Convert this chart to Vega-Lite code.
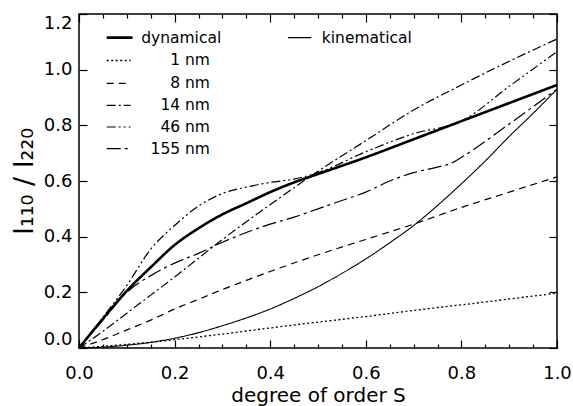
{
  "$schema": "https://vega.github.io/schema/vega-lite/v6.json",
  "width": 478,
  "height": 334,
  "autosize": {"type": "none"},
  "padding": {"left": 79, "top": 14, "right": 16, "bottom": 58},
  "background": "white",
  "config": {
    "view": {"stroke": "black", "strokeWidth": 1.5},
    "font": "DejaVu Sans",
    "axis": {"domain": false, "grid": false, "tickColor": "black", "labelColor": "black", "titleColor": "black", "labelFont": "DejaVu Sans", "titleFont": "DejaVu Sans", "tickWidth": 1.2}
  },
  "datasets": {
    "curves": [
      {"series": "dynamical", "S": 0, "I": 0}, {"series": "dynamical", "S": 0.05, "I": 0.105}, {"series": "dynamical", "S": 0.1, "I": 0.205}, {"series": "dynamical", "S": 0.15, "I": 0.29}, {"series": "dynamical", "S": 0.2, "I": 0.37}, {"series": "dynamical", "S": 0.25, "I": 0.43}, {"series": "dynamical", "S": 0.3, "I": 0.48}, {"series": "dynamical", "S": 0.35, "I": 0.52}, {"series": "dynamical", "S": 0.4, "I": 0.56}, {"series": "dynamical", "S": 0.45, "I": 0.595}, {"series": "dynamical", "S": 0.5, "I": 0.625}, {"series": "dynamical", "S": 0.6, "I": 0.685}, {"series": "dynamical", "S": 0.7, "I": 0.75}, {"series": "dynamical", "S": 0.8, "I": 0.815}, {"series": "dynamical", "S": 0.9, "I": 0.88}, {"series": "dynamical", "S": 1.0, "I": 0.945},
      {"series": "kinematical", "S": 0, "I": 0}, {"series": "kinematical", "S": 0.05, "I": 0.003}, {"series": "kinematical", "S": 0.1, "I": 0.01}, {"series": "kinematical", "S": 0.15, "I": 0.02}, {"series": "kinematical", "S": 0.2, "I": 0.035}, {"series": "kinematical", "S": 0.25, "I": 0.055}, {"series": "kinematical", "S": 0.3, "I": 0.08}, {"series": "kinematical", "S": 0.35, "I": 0.108}, {"series": "kinematical", "S": 0.4, "I": 0.14}, {"series": "kinematical", "S": 0.45, "I": 0.178}, {"series": "kinematical", "S": 0.5, "I": 0.22}, {"series": "kinematical", "S": 0.55, "I": 0.268}, {"series": "kinematical", "S": 0.6, "I": 0.32}, {"series": "kinematical", "S": 0.65, "I": 0.378}, {"series": "kinematical", "S": 0.7, "I": 0.44}, {"series": "kinematical", "S": 0.75, "I": 0.512}, {"series": "kinematical", "S": 0.8, "I": 0.59}, {"series": "kinematical", "S": 0.85, "I": 0.672}, {"series": "kinematical", "S": 0.9, "I": 0.76}, {"series": "kinematical", "S": 0.95, "I": 0.843}, {"series": "kinematical", "S": 1.0, "I": 0.93},
      {"series": "1 nm", "S": 0, "I": 0}, {"series": "1 nm", "S": 0.1, "I": 0.013}, {"series": "1 nm", "S": 0.2, "I": 0.03}, {"series": "1 nm", "S": 0.3, "I": 0.05}, {"series": "1 nm", "S": 0.4, "I": 0.072}, {"series": "1 nm", "S": 0.5, "I": 0.093}, {"series": "1 nm", "S": 0.6, "I": 0.113}, {"series": "1 nm", "S": 0.7, "I": 0.135}, {"series": "1 nm", "S": 0.8, "I": 0.155}, {"series": "1 nm", "S": 0.9, "I": 0.176}, {"series": "1 nm", "S": 1.0, "I": 0.197},
      {"series": "8 nm", "S": 0, "I": 0}, {"series": "8 nm", "S": 0.05, "I": 0.03}, {"series": "8 nm", "S": 0.1, "I": 0.065}, {"series": "8 nm", "S": 0.15, "I": 0.1}, {"series": "8 nm", "S": 0.2, "I": 0.14}, {"series": "8 nm", "S": 0.25, "I": 0.175}, {"series": "8 nm", "S": 0.3, "I": 0.21}, {"series": "8 nm", "S": 0.35, "I": 0.243}, {"series": "8 nm", "S": 0.4, "I": 0.275}, {"series": "8 nm", "S": 0.5, "I": 0.335}, {"series": "8 nm", "S": 0.6, "I": 0.39}, {"series": "8 nm", "S": 0.7, "I": 0.445}, {"series": "8 nm", "S": 0.8, "I": 0.505}, {"series": "8 nm", "S": 0.9, "I": 0.56}, {"series": "8 nm", "S": 1.0, "I": 0.615},
      {"series": "14 nm", "S": 0, "I": 0}, {"series": "14 nm", "S": 0.05, "I": 0.06}, {"series": "14 nm", "S": 0.1, "I": 0.125}, {"series": "14 nm", "S": 0.15, "I": 0.19}, {"series": "14 nm", "S": 0.2, "I": 0.255}, {"series": "14 nm", "S": 0.3, "I": 0.39}, {"series": "14 nm", "S": 0.4, "I": 0.515}, {"series": "14 nm", "S": 0.5, "I": 0.635}, {"series": "14 nm", "S": 0.6, "I": 0.745}, {"series": "14 nm", "S": 0.7, "I": 0.855}, {"series": "14 nm", "S": 0.8, "I": 0.945}, {"series": "14 nm", "S": 0.9, "I": 1.03}, {"series": "14 nm", "S": 1.0, "I": 1.11},
      {"series": "46 nm", "S": 0, "I": 0}, {"series": "46 nm", "S": 0.05, "I": 0.11}, {"series": "46 nm", "S": 0.1, "I": 0.225}, {"series": "46 nm", "S": 0.15, "I": 0.355}, {"series": "46 nm", "S": 0.2, "I": 0.44}, {"series": "46 nm", "S": 0.25, "I": 0.51}, {"series": "46 nm", "S": 0.3, "I": 0.555}, {"series": "46 nm", "S": 0.35, "I": 0.578}, {"series": "46 nm", "S": 0.4, "I": 0.595}, {"series": "46 nm", "S": 0.45, "I": 0.607}, {"series": "46 nm", "S": 0.5, "I": 0.63}, {"series": "46 nm", "S": 0.6, "I": 0.705}, {"series": "46 nm", "S": 0.7, "I": 0.77}, {"series": "46 nm", "S": 0.8, "I": 0.815}, {"series": "46 nm", "S": 0.9, "I": 0.94}, {"series": "46 nm", "S": 1.0, "I": 1.065},
      {"series": "155 nm", "S": 0, "I": 0}, {"series": "155 nm", "S": 0.05, "I": 0.1}, {"series": "155 nm", "S": 0.1, "I": 0.2}, {"series": "155 nm", "S": 0.15, "I": 0.26}, {"series": "155 nm", "S": 0.2, "I": 0.305}, {"series": "155 nm", "S": 0.25, "I": 0.34}, {"series": "155 nm", "S": 0.3, "I": 0.38}, {"series": "155 nm", "S": 0.35, "I": 0.415}, {"series": "155 nm", "S": 0.4, "I": 0.445}, {"series": "155 nm", "S": 0.45, "I": 0.47}, {"series": "155 nm", "S": 0.5, "I": 0.5}, {"series": "155 nm", "S": 0.55, "I": 0.53}, {"series": "155 nm", "S": 0.6, "I": 0.56}, {"series": "155 nm", "S": 0.65, "I": 0.6}, {"series": "155 nm", "S": 0.7, "I": 0.63}, {"series": "155 nm", "S": 0.75, "I": 0.65}, {"series": "155 nm", "S": 0.78, "I": 0.665}, {"series": "155 nm", "S": 0.8, "I": 0.685}, {"series": "155 nm", "S": 0.9, "I": 0.805}, {"series": "155 nm", "S": 1.0, "I": 0.93}
    ],
    "legend": [
      {"series": "dynamical", "lx1": 0.058, "lx2": 0.112, "ly": 1.115, "tx": 0.13, "label": "dynamical", "side": "left"},
      {"series": "kinematical", "lx1": 0.437, "lx2": 0.486, "ly": 1.115, "tx": 0.508, "label": "kinematical", "side": "left"},
      {"series": "1 nm", "lx1": 0.058, "lx2": 0.108, "ly": 1.033, "tx": 0.274, "label": "1 nm", "side": "right"},
      {"series": "8 nm", "lx1": 0.058, "lx2": 0.108, "ly": 0.951, "tx": 0.274, "label": "8 nm", "side": "right"},
      {"series": "14 nm", "lx1": 0.058, "lx2": 0.108, "ly": 0.872, "tx": 0.274, "label": "14 nm", "side": "right"},
      {"series": "46 nm", "lx1": 0.058, "lx2": 0.108, "ly": 0.794, "tx": 0.274, "label": "46 nm", "side": "right"},
      {"series": "155 nm", "lx1": 0.058, "lx2": 0.108, "ly": 0.716, "tx": 0.274, "label": "155 nm", "side": "right"}
    ]
  },
  "layer": [
    {
      "data": {"name": "curves"},
      "mark": {"type": "line", "interpolate": "monotone", "color": "black"},
      "encoding": {
        "x": {"field": "S", "type": "quantitative", "scale": {"domain": [0, 1], "nice": false},
          "axis": {"orient": "bottom", "values": [0, 0.2, 0.4, 0.6, 0.8, 1.0], "format": ".1f", "tickSize": -8, "labelPadding": 24, "labelFlush": false, "labelFontSize": 18, "title": "degree of order S", "titleFontSize": 20, "titleFontWeight": "normal", "titlePadding": 3}},
        "y": {"field": "I", "type": "quantitative", "scale": {"domain": [0, 1.2], "nice": false},
          "axis": {"orient": "left", "values": [0, 0.2, 0.4, 0.6, 0.8, 1.0, 1.2], "format": ".1f", "tickSize": -8, "labelPadding": 15, "labelFlush": true, "labelFontSize": 18, "title": "I₁₁₀ / I₂₂₀", "titleFontSize": 27, "titleFontWeight": "normal", "titlePadding": 5}},
        "detail": {"field": "series"},
        "order": {"field": "S"},
        "strokeDash": {"field": "series", "type": "nominal", "legend": null,
          "scale": {"domain": ["dynamical", "kinematical", "1 nm", "8 nm", "14 nm", "46 nm", "155 nm"],
            "range": [[1, 0], [1, 0], [2, 2.5], [7, 5], [9, 3, 2, 3], [9, 3, 2, 3, 2, 3], [14, 4, 3, 4]]}},
        "strokeWidth": {"field": "series", "type": "nominal", "legend": null,
          "scale": {"type": "ordinal", "domain": ["dynamical", "kinematical", "1 nm", "8 nm", "14 nm", "46 nm", "155 nm"],
            "range": [2.6, 1.1, 1.3, 1.2, 1.2, 1.2, 1.2]}}
      }
    },
    {
      "data": {"name": "curves"},
      "mark": {"type": "line", "opacity": 0},
      "encoding": {
        "x": {"field": "S", "type": "quantitative", "axis": {"orient": "top", "values": [0, 0.2, 0.4, 0.6, 0.8, 1.0], "tickSize": -8, "labels": false, "title": null}},
        "y": {"field": "I", "type": "quantitative", "axis": {"orient": "right", "values": [0, 0.2, 0.4, 0.6, 0.8, 1.0, 1.2], "tickSize": -8, "labels": false, "title": null}},
        "detail": {"field": "series"}
      }
    },
    {
      "data": {"name": "curves"},
      "mark": {"type": "line", "opacity": 0},
      "encoding": {
        "x": {"field": "S", "type": "quantitative", "axis": {"orient": "bottom", "values": [0.05, 0.1, 0.15, 0.25, 0.3, 0.35, 0.45, 0.5, 0.55, 0.65, 0.7, 0.75, 0.85, 0.9, 0.95], "tickSize": -4, "labels": false, "title": null}},
        "y": {"field": "I", "type": "quantitative", "axis": null},
        "detail": {"field": "series"}
      }
    },
    {
      "data": {"name": "curves"},
      "mark": {"type": "line", "opacity": 0},
      "encoding": {
        "x": {"field": "S", "type": "quantitative", "axis": {"orient": "top", "values": [0.05, 0.1, 0.15, 0.25, 0.3, 0.35, 0.45, 0.5, 0.55, 0.65, 0.7, 0.75, 0.85, 0.9, 0.95], "tickSize": -4, "labels": false, "title": null}},
        "y": {"field": "I", "type": "quantitative", "axis": null},
        "detail": {"field": "series"}
      }
    },
    {
      "data": {"name": "legend"},
      "mark": {"type": "rule", "color": "black"},
      "encoding": {
        "x": {"field": "lx1", "type": "quantitative", "axis": null},
        "x2": {"field": "lx2"},
        "y": {"field": "ly", "type": "quantitative", "axis": null},
        "strokeDash": {"field": "series", "type": "nominal", "legend": null,
          "scale": {"domain": ["dynamical", "kinematical", "1 nm", "8 nm", "14 nm", "46 nm", "155 nm"],
            "range": [[1, 0], [1, 0], [2, 2.5], [7, 5], [9, 3, 2, 3], [9, 3, 2, 3, 2, 3], [14, 4, 3, 4]]}},
        "strokeWidth": {"field": "series", "type": "nominal", "legend": null,
          "scale": {"type": "ordinal", "domain": ["dynamical", "kinematical", "1 nm", "8 nm", "14 nm", "46 nm", "155 nm"],
            "range": [2.6, 1.1, 1.3, 1.2, 1.2, 1.2, 1.2]}}
      }
    },
    {
      "data": {"name": "legend"},
      "transform": [{"filter": "datum.side == 'left'"}],
      "mark": {"type": "text", "align": "left", "baseline": "middle", "fontSize": 15.5, "font": "DejaVu Sans", "color": "black"},
      "encoding": {
        "x": {"field": "tx", "type": "quantitative", "axis": null},
        "y": {"field": "ly", "type": "quantitative", "axis": null},
        "text": {"field": "label"}
      }
    },
    {
      "data": {"name": "legend"},
      "transform": [{"filter": "datum.side == 'right'"}],
      "mark": {"type": "text", "align": "right", "baseline": "middle", "fontSize": 15.5, "font": "DejaVu Sans", "color": "black"},
      "encoding": {
        "x": {"field": "tx", "type": "quantitative", "axis": null},
        "y": {"field": "ly", "type": "quantitative", "axis": null},
        "text": {"field": "label"}
      }
    }
  ],
  "resolve": {"axis": {"x": "independent", "y": "independent"}}
}
